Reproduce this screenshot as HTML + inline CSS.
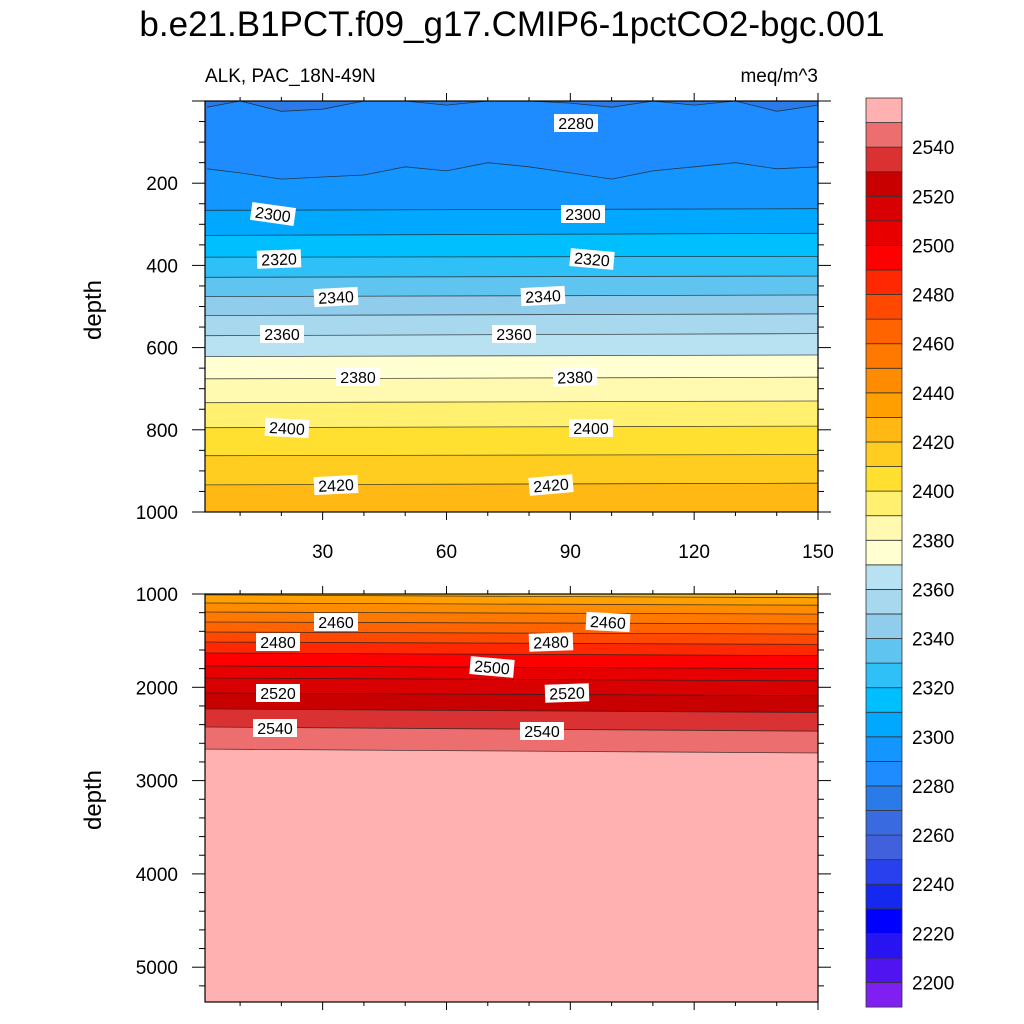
<!DOCTYPE html>
<html><head><meta charset="utf-8">
<style>
html,body{margin:0;padding:0;background:#fff;}
svg{display:block;font-family:"Liberation Sans",sans-serif;}
</style></head>
<body>
<svg id="chart" width="1024" height="1024" viewBox="0 0 1024 1024" xmlns="http://www.w3.org/2000/svg">
<text x="512" y="36" font-size="35" text-anchor="middle">b.e21.B1PCT.f09_g17.CMIP6-1pctCO2-bgc.001</text>
<text x="205" y="82" font-size="19">ALK, PAC_18N-49N</text>
<text x="818" y="82" font-size="19" text-anchor="end">meq/m^3</text>
<text transform="translate(101,310) rotate(-90)" font-size="24" text-anchor="middle">depth</text>
<text transform="translate(101,800) rotate(-90)" font-size="24" text-anchor="middle">depth</text>
<g id="top"></g><g id="bot"></g><g id="cbar"></g>
</svg>
<script>
const colors = ["#8020f0","#5014f0","#2814f0","#0000ff","#1428f0","#2840ee","#4060dc","#3a6ae0","#2a7ae8","#1e8cff","#1496ff","#00a8ff","#00bfff","#30c0f8","#60c4f0","#90ccec","#a8d8ee","#b8e2f2","#ffffd2","#fffab0","#fff070","#ffe030","#ffcc20","#ffb814","#ffa000","#ff8c00","#ff7800","#ff6400","#ff4800","#ff2800","#ff0000","#e80000","#d80000","#c80000","#da3232","#ec6e6e","#ffb0b0"];
const cbarLabels = [2200,2220,2240,2260,2280,2300,2320,2340,2360,2380,2400,2420,2440,2460,2480,2500,2520,2540];
const xCols = [2,10,20,30,40,50,60,70,80,90,100,110,120,130,140,150];
const depth2280 = [15,0,25,20,0,0,10,0,0,5,15,0,10,0,25,10];
const depth2290 = [165,175,190,185,180,160,170,150,160,175,190,170,160,150,165,160];
const upLevels = [2300,2310,2320,2330,2340,2350,2360,2370,2380,2390,2400,2410,2420];
const upLeft  = [266,327,380,429,476,522,571,622,676,734,795,863,934];
const upRight = [262,322,378,426,472,518,566,618,672,730,791,860,930];
const loLevels = [2430,2440,2450,2460,2470,2480,2490,2500,2510,2520,2530,2540,2550];
const loLeft  = [1010,1096,1193,1300,1407,1514,1632,1772,1900,2061,2233,2426,2662];
const loRight = [1040,1120,1215,1320,1430,1540,1660,1800,1930,2090,2270,2470,2704];

const NS="http://www.w3.org/2000/svg";
function mk(tag,attrs,parent){const e=document.createElementNS(NS,tag);for(const k in attrs)e.setAttribute(k,attrs[k]);parent.appendChild(e);return e;}
function colorOf(L){return colors[Math.round((L-2190)/10)];}
const X0=205,X1=818,XMIN=1.5,XMAX=150;
function sx(v){return X0+(v-XMIN)/(XMAX-XMIN)*(X1-X0);}
const P1={y0:101,y1:512,dmin:0,dmax:1000};
const P2={y0:594,y1:1002,dmin:1000,dmax:1000+(1002-594)/0.0933};
function syf(P){return d=>P.y0+(d-P.dmin)/(P.dmax-P.dmin)*(P.y1-P.y0);}

function drawPanel(g,P,baseLevel,curves,name){
  const sy=syf(P);
  const clipId="clip-"+name;
  const cp=mk("clipPath",{id:clipId},g);
  mk("rect",{x:X0,y:P.y0,width:X1-X0,height:P.y1-P.y0},cp);
  const fg=mk("g",{"clip-path":"url(#"+clipId+")"},g);
  const base=mk("rect",{x:X0,y:P.y0,width:X1-X0,height:P.y1-P.y0,fill:colorOf(baseLevel)},fg);
  
  
  curves.forEach(c=>{
    const pts=c.xs.map((x,i)=>sx(x).toFixed(1)+","+sy(c.ds[i]).toFixed(1));
    const poly=mk("polygon",{points:pts.join(" ")+" "+X1+","+(P.y1+5)+" "+X0+","+(P.y1+5),fill:colorOf(c.level)},fg);
    
    
  });
  curves.forEach(c=>{
    const pts=c.xs.map((x,i)=>sx(x).toFixed(1)+","+sy(c.ds[i]).toFixed(1));
    const l=mk("polyline",{points:pts.join(" "),fill:"none",stroke:"#222","stroke-width":0.8,"stroke-opacity":0.8},fg);
    
    
  });
  const fr=mk("rect",{x:X0,y:P.y0,width:X1-X0,height:P.y1-P.y0,fill:"none",stroke:"#000","stroke-width":1.2},g);
  
  
}
function curvesFromLR(levels,L,R){
  return levels.map((lv,i)=>({level:lv,xs:[XMIN,XMAX],ds:[L[i],R[i]]}));
}
const topCurves=[{level:2280,xs:xCols,ds:depth2280},{level:2290,xs:xCols,ds:depth2290}].concat(curvesFromLR(upLevels,upLeft,upRight));
const gt=document.getElementById("top"), gb=document.getElementById("bot");
drawPanel(gt,P1,2270,topCurves,"upper-panel");
drawPanel(gb,P2,2420,curvesFromLR(loLevels,loLeft,loRight),"lower-panel");

function ticks(g,P,yMajor,yMinor,showX,name){
  const sy=syf(P);
  const t=mk("g",{stroke:"#000","stroke-width":1},g);
  for(let v=10;v<=XMAX;v+=10){
    const x=sx(v),maj=v%30===0;const len=maj?8:4;
    mk("line",{x1:x,x2:x,y1:P.y0,y2:P.y0-len},t);
    mk("line",{x1:x,x2:x,y1:P.y1,y2:P.y1+len},t);
  }
  for(let d=Math.ceil(P.dmin/yMinor)*yMinor;d<=P.dmax;d+=yMinor){
    const y=sy(d),maj=d%yMajor===0;const len=maj?13:6;
    mk("line",{x1:X0,x2:X0-len,y1:y,y2:y},t);
    mk("line",{x1:X1,x2:X1+len,y1:y,y2:y},t);
    if(maj&&d>0){
      const tx=mk("text",{x:178,y:y+7,"font-size":19,"text-anchor":"end",stroke:"none"},g);
      tx.textContent=d;
      
      
    }
  }
  if(showX){
    for(let v=30;v<=150;v+=30){
      const tx=mk("text",{x:sx(v),y:P.y1+46,"font-size":19,"text-anchor":"middle"},g);
      tx.textContent=v;
      
      
    }
  }
}
ticks(gt,P1,200,50,true,"upper");
ticks(gb,P2,1000,200,false,"lower");

const labelText=[2280,2300,2300,2320,2320,2340,2340,2360,2360,2380,2380,2400,2400,2420,2420,2460,2460,2480,2480,2500,2520,2520,2540,2540];
const labelPos=[[576,123,0],[273,214,8],[583,214,0],[279,259,-2],[592,259,5],[336,297,-3],[543,296,-3],[282,334,0],[514,334,0],[358,377,0],[575,377,-2],[287,428,3],[591,428,0],[336,485,-3],[551,485,-5],[336,622,0],[608,622,3],[278,642,0],[551,642,-2],[492,667,5],[278,693,0],[567,693,-2],[275,728,0],[542,731,0]];
const lg=mk("g",{},document.getElementById("chart"));
labelText.forEach((t,i)=>{
  const [x,y,r]=labelPos[i];
  const g=mk("g",{transform:`translate(${x},${y}) rotate(${r})`},lg);
  
  
  mk("rect",{x:-22,y:-9,width:44,height:18,fill:"#fff"},g);
  const tx=mk("text",{x:0,y:6,"font-size":16,"text-anchor":"middle"},g);
  tx.textContent=t;
});

const cb=document.getElementById("cbar");


const CB_TOP=98,CB_H=24.57,CB_X=866,CB_W=36,N=colors.length;
colors.forEach((c,i)=>{
  const y=CB_TOP+(N-1-i)*CB_H;
  const r=mk("rect",{x:CB_X,y:y,width:CB_W,height:CB_H,fill:c,stroke:"#333","stroke-width":0.8},cb);
  
  
});
cbarLabels.forEach(v=>{
  const k=(v-2190)/10;
  const y=CB_TOP+(N-k)*CB_H;
  const tx=mk("text",{x:912,y:y+7,"font-size":19},cb);
  tx.textContent=v;
  
  
});
</script>
</body></html>
